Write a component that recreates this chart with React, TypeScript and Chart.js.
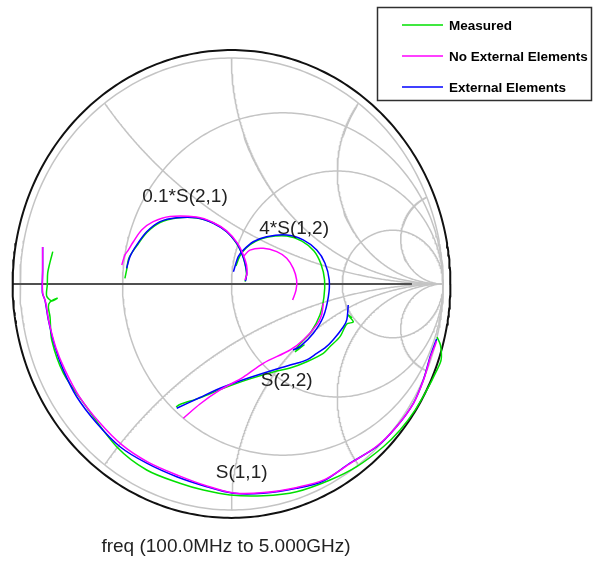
import React, { useEffect, useRef } from "react";
import { Chart, registerables } from "chart.js";

Chart.register(...registerables);

// ---- Smith chart grid values (normalised impedance) ----
const R_CIRCLES = [0.32, 1, 3.2];
const X_ARCS = [0.5, 1, 2, 5];
const OUTER_RING = 1.035;
const AXIS_LINE_END = 0.853;

// ---- Legend ----
const SERIES_NAMES = ["Measured", "No External Elements", "External Elements"];
const SERIES_COLORS = ["#00e000", "#ff00ff", "#0000ff"];

// ---- Curve annotations (reflection-coefficient coordinates) ----
const CURVE_LABELS = ["0.1*S(2,1)", "4*S(1,2)", "S(2,2)", "S(1,1)"];
const LABEL_POS: [number, number][] = [
  [-0.22, 0.385],
  [0.296, 0.246],
  [0.261, -0.429],
  [0.048, -0.836],
];
const AXIS_TITLE = "freq (100.0MHz to 5.000GHz)";
const AXIS_TITLE_POS: [number, number] = [-0.026, -1.164];

// ---- S(1,1) ----
const S11_MEASURED: [number, number][] = [
  [-0.845, 0.143], [-0.858, 0.097], [-0.869, 0.049], [-0.871, -0.004], [-0.874, -0.053],
  [-0.849, -0.075], [-0.824, -0.063], [-0.858, -0.08], [-0.866, -0.102], [-0.858, -0.146],
  [-0.85, -0.248], [-0.795, -0.394], [-0.693, -0.535], [-0.543, -0.72], [-0.401, -0.823],
  [-0.244, -0.882], [-0.133, -0.912], [-0.007, -0.934], [0.15, -0.937], [0.308, -0.919],
  [0.466, -0.867], [0.592, -0.808], [0.718, -0.72], [0.797, -0.646], [0.868, -0.558],
  [0.929, -0.46], [0.967, -0.389], [0.991, -0.336], [0.988, -0.27], [0.972, -0.235],
];
const S11_NO_EXT: [number, number][] = [
  [-0.893, 0.164], [-0.893, 0.062], [-0.893, -0.04], [-0.879, -0.08], [-0.863, -0.168],
  [-0.83, -0.283], [-0.787, -0.381], [-0.721, -0.496], [-0.626, -0.611], [-0.518, -0.712],
  [-0.395, -0.788], [-0.253, -0.847], [-0.116, -0.894], [0.012, -0.925], [0.154, -0.923],
  [0.31, -0.9], [0.437, -0.867], [0.565, -0.792], [0.688, -0.717], [0.783, -0.628],
  [0.861, -0.527], [0.908, -0.425], [0.941, -0.323], [0.965, -0.265], [0.969, -0.252],
];
const S11_EXT: [number, number][] = [
  [-0.893, 0.164], [-0.893, 0.062], [-0.894, -0.04], [-0.882, -0.071], [-0.866, -0.159],
  [-0.835, -0.277], [-0.795, -0.381], [-0.732, -0.499], [-0.637, -0.616], [-0.527, -0.72],
  [-0.401, -0.793], [-0.259, -0.853], [-0.117, -0.897], [0.009, -0.926], [0.15, -0.926],
  [0.308, -0.904], [0.434, -0.872], [0.56, -0.793], [0.687, -0.72], [0.781, -0.631],
  [0.86, -0.528], [0.907, -0.425], [0.939, -0.322], [0.962, -0.262], [0.97, -0.243],
];

// ---- 0.1*S(2,1) ----
const S21_MEASURED: [number, number][] = [
  [-0.504, 0.025], [-0.496, 0.062], [-0.485, 0.115], [-0.447, 0.17], [-0.4, 0.228],
  [-0.338, 0.272], [-0.258, 0.292], [-0.163, 0.292], [-0.085, 0.27], [-0.021, 0.23],
  [0.026, 0.177], [0.05, 0.133], [0.064, 0.088], [0.071, 0.044], [0.064, 0.01],
];
const S21_NO_EXT: [number, number][] = [
  [-0.519, 0.084], [-0.504, 0.128], [-0.488, 0.15], [-0.464, 0.187], [-0.425, 0.239],
  [-0.37, 0.276], [-0.291, 0.299], [-0.165, 0.296], [-0.087, 0.272], [-0.023, 0.235],
  [0.028, 0.181], [0.054, 0.133], [0.071, 0.084], [0.073, 0.044], [0.064, 0.018],
];
const S21_EXT: [number, number][] = [
  [-0.496, 0.069], [-0.48, 0.121], [-0.448, 0.173], [-0.401, 0.231], [-0.338, 0.276],
  [-0.259, 0.293], [-0.165, 0.293], [-0.086, 0.269], [-0.023, 0.231], [0.025, 0.18],
  [0.048, 0.136], [0.064, 0.092], [0.072, 0.047], [0.066, 0.013],
];

// ---- 4*S(1,2) ----
const S12_MEASURED: [number, number][] = [
  [0.021, 0.08], [0.04, 0.124], [0.069, 0.159], [0.116, 0.19], [0.173, 0.208],
  [0.262, 0.212], [0.333, 0.19], [0.39, 0.146], [0.423, 0.088], [0.44, 0.018],
  [0.437, -0.058], [0.418, -0.137], [0.376, -0.212], [0.324, -0.265], [0.305, -0.292],
  [0.343, -0.27], [0.3, -0.301],
];
const S12_NO_EXT: [number, number][] = [
  [0.056, 0.121], [0.087, 0.15], [0.15, 0.158], [0.214, 0.143], [0.261, 0.114],
  [0.292, 0.069], [0.308, 0.018], [0.305, -0.027], [0.289, -0.071],
];
const S12_EXT: [number, number][] = [
  [0.009, 0.054], [0.032, 0.121], [0.056, 0.15], [0.103, 0.187], [0.166, 0.209],
  [0.261, 0.217], [0.339, 0.195], [0.403, 0.15], [0.442, 0.092], [0.462, 0.018],
  [0.458, -0.056], [0.434, -0.145], [0.387, -0.218], [0.324, -0.277], [0.291, -0.292],
];

// ---- S(2,2) ----
const S22_MEASURED: [number, number][] = [
  [0.57, -0.15], [0.551, -0.137], [0.576, -0.168], [0.545, -0.177], [0.513, -0.233],
  [0.466, -0.277], [0.434, -0.307], [0.356, -0.344], [0.277, -0.372], [0.214, -0.385],
  [0.087, -0.42], [-0.039, -0.462], [-0.149, -0.504], [-0.244, -0.533], [-0.262, -0.544],
];
const S22_NO_EXT: [number, number][] = [
  [0.434, -0.085], [0.426, -0.137], [0.403, -0.181], [0.339, -0.248], [0.277, -0.292],
  [0.15, -0.351], [0.056, -0.412], [-0.054, -0.469], [-0.149, -0.531], [-0.228, -0.594],
];
const S22_EXT: [number, number][] = [
  [0.552, -0.093], [0.545, -0.159], [0.529, -0.189], [0.48, -0.248], [0.442, -0.283],
  [0.403, -0.307], [0.356, -0.336], [0.308, -0.351], [0.214, -0.376], [0.087, -0.414],
  [-0.039, -0.456], [-0.149, -0.502], [-0.259, -0.55],
];

// ---- scale window (reflection-coefficient units) ----
const X_MIN = -1.0946;
const X_MAX = 1.7092;
const Y_MIN = -1.2257;
const Y_MAX = 1.2566;

const GRID_COLOR = "#c4c4c4";

function toXY(arr: [number, number][]) {
  return arr.map(([x, y]) => ({ x, y }));
}

function circlePts(cx: number, cy: number, rad: number, n = 360) {
  const pts: { x: number; y: number }[] = [];
  for (let i = 0; i <= n; i++) {
    const a = (i / n) * Math.PI * 2;
    pts.push({ x: cx + rad * Math.cos(a), y: cy + rad * Math.sin(a) });
  }
  return pts;
}

function xArcPts(xv: number, n = 400) {
  const pts: { x: number; y: number }[] = [];
  for (let i = 0; i < n; i++) {
    const t = (i / n) * 0.9995;
    const r = Math.tan((t * Math.PI) / 2);
    const d = (r + 1) * (r + 1) + xv * xv;
    pts.push({ x: (r * r - 1 + xv * xv) / d, y: (2 * xv) / d });
  }
  pts.push({ x: 1, y: 0 });
  return pts;
}

function lineDs(data: { x: number; y: number }[], color: string, width: number, order: number, tension = 0) {
  return {
    data,
    showLine: true,
    borderColor: color,
    backgroundColor: color,
    borderWidth: width,
    pointRadius: 0,
    tension,
    fill: false,
    order,
  };
}

const overlayPlugin = {
  id: "smithOverlay",
  afterDatasetsDraw(chart: any) {
    const { ctx, scales } = chart;
    const xs = scales.x;
    const ys = scales.y;
    ctx.save();
    ctx.fillStyle = "#222";
    ctx.font = '19px "Liberation Sans", Arial, sans-serif';
    ctx.textAlign = "center";
    ctx.textBaseline = "middle";
    CURVE_LABELS.forEach((txt, i) => {
      const [gx, gy] = LABEL_POS[i];
      ctx.fillText(txt, xs.getPixelForValue(gx), ys.getPixelForValue(gy));
    });
    ctx.fillText(AXIS_TITLE, xs.getPixelForValue(AXIS_TITLE_POS[0]), ys.getPixelForValue(AXIS_TITLE_POS[1]));

    // legend box
    const bx = 377.5, by = 7.5, bw = 214, bh = 93;
    ctx.strokeStyle = "#303030";
    ctx.lineWidth = 1.5;
    ctx.strokeRect(bx, by, bw, bh);
    ctx.font = 'bold 13.5px "Liberation Sans", Arial, sans-serif';
    ctx.textAlign = "left";
    SERIES_NAMES.forEach((name, i) => {
      const yy = 25 + i * 31;
      ctx.strokeStyle = SERIES_COLORS[i];
      ctx.lineWidth = 1.5;
      ctx.beginPath();
      ctx.moveTo(402, yy);
      ctx.lineTo(443, yy);
      ctx.stroke();
      ctx.fillStyle = "#000";
      ctx.fillText(name, 449, yy + 1);
    });
    ctx.restore();
  },
};

export default function App() {
  const ref = useRef<HTMLCanvasElement | null>(null);

  useEffect(() => {
    if (!ref.current) return;
    const datasets: any[] = [];
    // grid
    datasets.push(lineDs(circlePts(0, 0, 1), GRID_COLOR, 1.5, 50));
    R_CIRCLES.forEach((r) => {
      datasets.push(lineDs(circlePts(r / (1 + r), 0, 1 / (1 + r)), GRID_COLOR, 1.5, 50));
    });
    X_ARCS.forEach((xv) => {
      datasets.push(lineDs(xArcPts(xv), GRID_COLOR, 1.5, 50));
      datasets.push(lineDs(xArcPts(-xv), GRID_COLOR, 1.5, 50));
    });
    datasets.push(lineDs([{ x: -1, y: 0 }, { x: 1, y: 0 }], GRID_COLOR, 1.5, 50));
    // frame
    datasets.push(lineDs(circlePts(0, 0, OUTER_RING), "#111", 2, 40));
    datasets.push(lineDs([{ x: -OUTER_RING, y: 0 }, { x: AXIS_LINE_END, y: 0 }], "#505050", 2, 40));
    // traces
    const groups: [number, [number, number][][]][] = [
      [0, [S11_MEASURED, S21_MEASURED, S12_MEASURED, S22_MEASURED]],
      [2, [S11_EXT, S21_EXT, S12_EXT, S22_EXT]],
      [1, [S11_NO_EXT, S21_NO_EXT, S12_NO_EXT, S22_NO_EXT]],
    ];
    groups.forEach(([si, arrs], gi) => {
      arrs.forEach((arr) => {
        datasets.push(lineDs(toXY(arr), SERIES_COLORS[si], 1.5, 30 - gi * 5, 0.3));
      });
    });

    const chart = new Chart(ref.current, {
      type: "scatter",
      data: { datasets },
      options: {
        animation: false,
        responsive: false,
        maintainAspectRatio: false,
        events: [],
        layout: { padding: 0 },
        plugins: { legend: { display: false }, tooltip: { enabled: false }, title: { display: false } },
        scales: {
          x: { type: "linear", display: false, min: X_MIN, max: X_MAX },
          y: { type: "linear", display: false, min: Y_MIN, max: Y_MAX },
        },
      },
      plugins: [overlayPlugin],
    });
    return () => chart.destroy();
  }, []);

  return (
    <div style={{ position: "absolute", left: 0, top: 0, width: 593, height: 561, background: "#fff" }}>
      <canvas ref={ref} width={593} height={561} style={{ width: 593, height: 561, display: "block" }} />
    </div>
  );
}
